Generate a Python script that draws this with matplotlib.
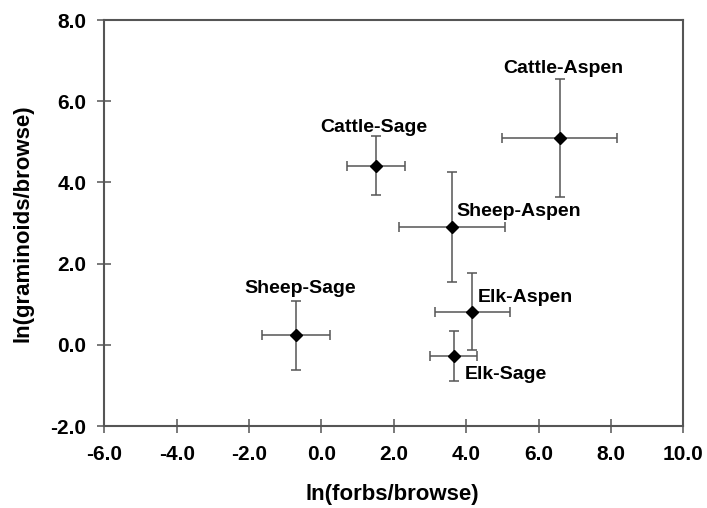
import matplotlib.pyplot as plt

# data
names = ['Cattle-Sage', 'Cattle-Aspen', 'Sheep-Aspen', 'Sheep-Sage', 'Elk-Aspen', 'Elk-Sage']
x = [1.52, 6.58, 3.61, -0.70, 4.17, 3.65]
y = [4.41, 5.09, 2.90, 0.23, 0.81, -0.27]
xerr = [0.80, 1.60, 1.46, 0.93, 1.04, 0.65]
yerr = [0.73, 1.46, 1.35, 0.85, 0.95, 0.61]

# label anchor positions (data coords, baseline) and alignment
lab_x = [1.44, 6.68, 3.73, -0.59, 4.33, 3.96]
lab_y = [5.24, 6.70, 3.18, 1.28, 1.06, -0.85]
lab_ha = ['center', 'center', 'left', 'center', 'left', 'left']

plt.rcParams['font.family'] = ['Liberation Sans', 'DejaVu Sans']
plt.rcParams['font.weight'] = 'bold'

fig = plt.figure(figsize=(7.07, 5.08), dpi=100)
ax = fig.add_axes([0.1475, 0.1614, 0.819, 0.7992])

ax.errorbar(x, y, xerr=xerr, yerr=yerr, fmt='none', ecolor='#555555',
            elinewidth=1.1, capsize=3.6, capthick=1.1, zorder=2)
ax.plot(x, y, 'D', color='black', markersize=5.8, zorder=3)

for i in range(len(names)):
    ax.text(lab_x[i], lab_y[i], names[i], ha=lab_ha[i], va='baseline',
            fontsize=14, fontweight='bold')

ax.set_xlim(-6, 10)
ax.set_ylim(-2, 8)
ax.set_xticks(range(-6, 11, 2))
ax.set_yticks(range(-2, 9, 2))
ax.set_xticklabels(['%.1f' % v for v in range(-6, 11, 2)])
ax.set_yticklabels(['%.1f' % v for v in range(-2, 9, 2)])
ax.tick_params(axis='both', labelsize=15, color='#555555', width=1.1, length=9.5,
               direction='inout')
ax.tick_params(axis='x', pad=9)
ax.tick_params(axis='y', pad=8.3)
for s in ax.spines.values():
    s.set_color('#555555')
    s.set_linewidth(1.5)

ax.set_xlabel('ln(forbs/browse)', fontsize=16, fontweight='bold')
ax.set_ylabel('ln(graminoids/browse)', fontsize=16, fontweight='bold')
ax.xaxis.set_label_coords(0.498, -0.143)
ax.yaxis.set_label_coords(-0.123, 0.5)

fig.savefig('out.png', dpi=100)
